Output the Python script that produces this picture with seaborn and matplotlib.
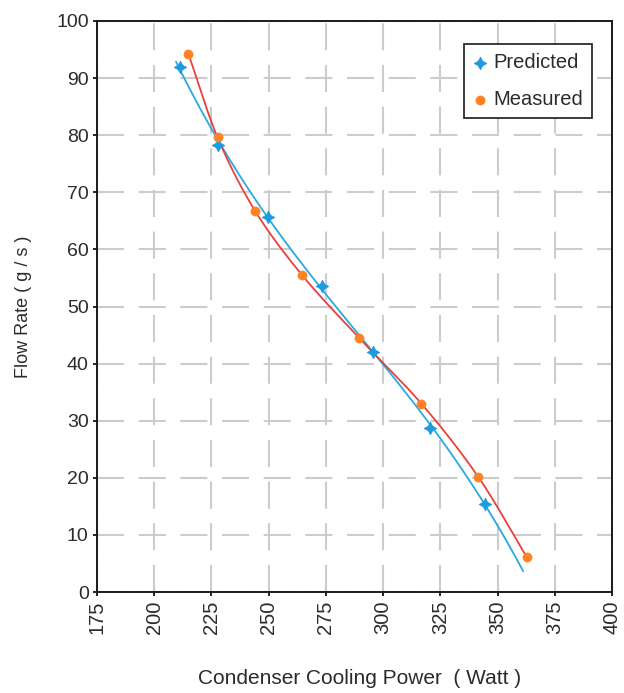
import numpy as np
import pandas as pd
import matplotlib
matplotlib.use("Agg")
import matplotlib.pyplot as plt
import seaborn as sns

# ---- data ----
pred_x = [211.2, 227.7, 249.8, 273.1, 295.7, 320.4, 344.7]
pred_y = [92.0, 78.3, 65.7, 53.6, 42.1, 28.8, 15.4]
meas_x = [214.9, 227.7, 244.0, 264.6, 289.5, 316.7, 341.5, 362.8]
meas_y = [94.3, 79.6, 66.8, 55.5, 44.5, 33.0, 20.2, 6.1]
pred_fit_x_range = [209.5, 361.2]   # extent of the predicted trend line
x_ticks = [175, 200, 225, 250, 275, 300, 325, 350, 375, 400]
y_ticks = [0, 10, 20, 30, 40, 50, 60, 70, 80, 90, 100]
series_names = ["Predicted", "Measured"]

C_PRED_LINE = "#2aa9e3"
C_PRED_MARK = "#1c9be0"
C_MEAS_LINE = "#e8403a"
C_MEAS_MARK = "#ff8224"
TEXT = "#2b2b2b"


def catmull_rom(xs, ys, n=30):
    p = np.column_stack([xs, ys]).astype(float)
    p = np.vstack([2 * p[0] - p[1], p, 2 * p[-1] - p[-2]])
    out = []
    t = np.linspace(0, 1, n, endpoint=False)[:, None]
    for i in range(1, len(p) - 2):
        p0, p1, p2, p3 = p[i - 1], p[i], p[i + 1], p[i + 2]
        seg = 0.5 * ((2 * p1) + (-p0 + p2) * t + (2 * p0 - 5 * p1 + 4 * p2 - p3) * t ** 2
                     + (-p0 + 3 * p1 - 3 * p2 + p3) * t ** 3)
        out.append(seg)
    out.append(p[-2][None, :])
    out = np.vstack(out)
    return out[:, 0], out[:, 1]


sns.set_theme(style="white")
plt.rcParams["font.family"] = ["Liberation Sans", "DejaVu Sans"]

fig = plt.figure(figsize=(6.24, 6.93), dpi=100)
ax = fig.add_axes([0.1554, 0.1457, 0.8254, 0.824])

# trend line for predicted (cubic fit)
coef = np.polyfit(pred_x, pred_y, 3)
fx = np.linspace(pred_fit_x_range[0], pred_fit_x_range[1], 200)
fy = np.polyval(coef, fx)
sns.lineplot(x=fx, y=fy, sort=False, color=C_PRED_LINE, lw=1.3, ax=ax, zorder=3)

# smoothed line through measured points
sx, sy = catmull_rom(meas_x, meas_y)
sns.lineplot(x=sx, y=sy, sort=False, color=C_MEAS_LINE, lw=1.3, ax=ax, zorder=3)

df_pred = pd.DataFrame({"x": pred_x, "y": pred_y})
df_meas = pd.DataFrame({"x": meas_x, "y": meas_y})
sns.scatterplot(data=df_pred, x="x", y="y", marker=(4, 1, 0), s=80, color=C_PRED_MARK,
                edgecolor=C_PRED_MARK, linewidth=0.6, ax=ax, zorder=4, label=series_names[0])
sns.scatterplot(data=df_meas, x="x", y="y", marker="o", s=50, color=C_MEAS_MARK,
                edgecolor=C_MEAS_MARK, linewidth=0, ax=ax, zorder=4, label=series_names[1])

ax.set_xlim(175, 400)
ax.set_ylim(0, 100)
ax.set_xticks(x_ticks)
ax.set_yticks(y_ticks)
ax.set_xticklabels([str(v) for v in x_ticks], rotation=90, fontsize=14.5, color=TEXT)
ax.set_yticklabels([str(v) for v in y_ticks], fontsize=14, color=TEXT)
ax.tick_params(axis="both", which="major", direction="out", length=3, width=1.2,
               color="black", left=True, bottom=True, pad=3)

ax.grid(True, color="#cccccc", lw=1.5, linestyle=(0, (13, 7)))
ax.set_axisbelow(True)
for s in ax.spines.values():
    s.set_visible(True)
    s.set_color("#1a1a1a")
    s.set_linewidth(1.4)

ax.set_xlabel("Condenser Cooling Power  ( Watt )", fontsize=15, color=TEXT, labelpad=24)
ax.xaxis.set_label_coords(0.51, -0.135)
ax.set_ylabel("Flow Rate ( g / s )", fontsize=13, color=TEXT, labelpad=17)

leg = ax.legend(loc="upper right", bbox_to_anchor=(0.961, 0.9597), fontsize=14.5,
                frameon=True, fancybox=False, edgecolor="#1a1a1a", framealpha=1,
                borderaxespad=0.0, handlelength=0.7, handletextpad=0.3,
                labelspacing=0.9, borderpad=0.45)
leg.get_frame().set_linewidth(1.2)
for t in leg.get_texts():
    t.set_color(TEXT)

fig.savefig("out.png", dpi=100, facecolor="white")
